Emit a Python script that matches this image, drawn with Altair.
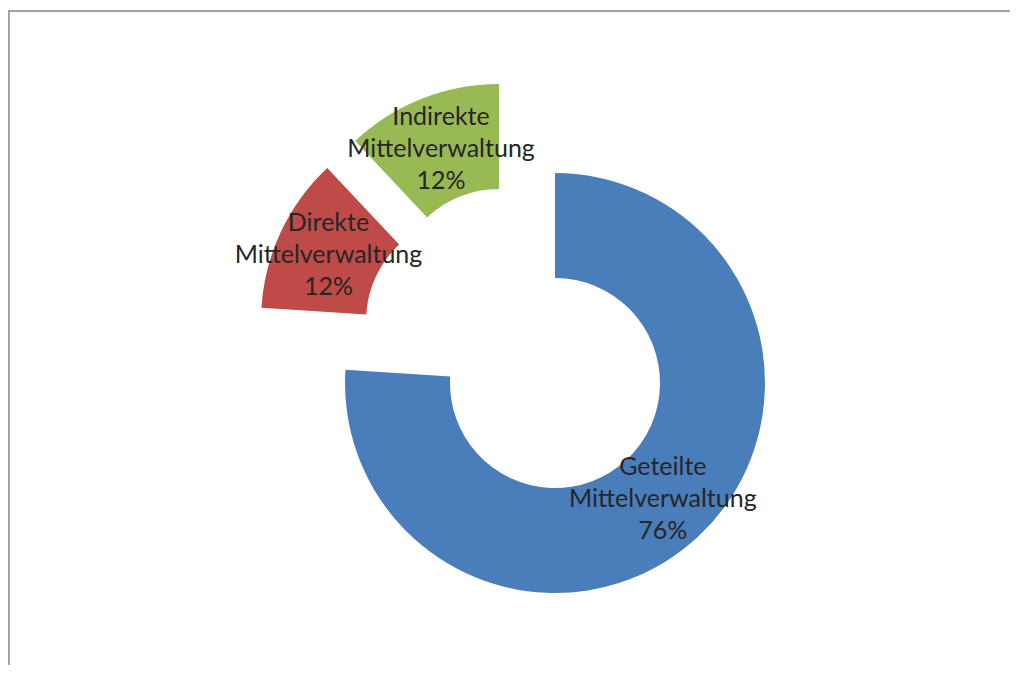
import math
import altair as alt
import pandas as pd

# ---- data ----
categories = ["Geteilte Mittelverwaltung", "Direkte Mittelverwaltung", "Indirekte Mittelverwaltung"]
values = [76, 12, 12]
label_lines = [
    "Geteilte\nMittelverwaltung\n76%",
    "Direkte\nMittelverwaltung\n12%",
    "Indirekte\nMittelverwaltung\n12%",
]
colors = ["#4A7EBB", "#BE4B48", "#98B954"]

# centres of each (exploded) slice, in plot coordinates (styling / layout)
centres = [(547, 375), (463, 313), (491, 286)]

W, H = 1002, 657
INNER, OUTER = 105, 210

df = pd.DataFrame({"cat": categories, "value": values, "label": label_lines})
df["end"] = df["value"].cumsum()
df["start"] = df["end"] - df["value"]
df["mid"] = (df["start"] + df["end"]) / 2

theta_scale = alt.Scale(domain=[0, 100], range=[0, 2 * math.pi])

layers = []
for i, cat in enumerate(categories):
    cx, cy = centres[i]
    base = alt.Chart(df).transform_filter(alt.datum.cat == cat)
    arc = base.mark_arc(innerRadius=INNER, outerRadius=OUTER, stroke=None).encode(
        theta=alt.Theta("start:Q", scale=theta_scale),
        theta2="end:Q",
        x=alt.value(cx),
        y=alt.value(cy),
        color=alt.value(colors[i]),
    )
    txt = base.mark_text(
        radius=(INNER + OUTER) / 2,
        lineBreak="\n",
        font="Lato",
        fontSize=25,
        lineHeight=32,
        dy=-31,
        color="#262626",
        align="center",
        baseline="middle",
    ).encode(
        theta=alt.Theta("mid:Q", scale=theta_scale),
        x=alt.value(cx),
        y=alt.value(cy),
        text="label:N",
    )
    layers.append((arc, txt))

top_rule = alt.Chart(df).mark_rule(color="#A0A0A0", strokeWidth=2).encode(
    x=alt.value(0), x2=alt.value(W), y=alt.value(3)
)
left_rule = alt.Chart(df).mark_rule(color="#A0A0A0", strokeWidth=2).encode(
    x=alt.value(0.5), y=alt.value(3), y2=alt.value(H)
)

chart = alt.layer(
    top_rule,
    left_rule,
    layers[0][0], layers[1][0], layers[2][0],
    layers[0][1], layers[1][1], layers[2][1],
).properties(
    width=W, height=H, padding=0, autosize=alt.AutoSizeParams(type="none")
).configure_view(stroke=None)

chart.save("out.html", embed_options={"renderer": "svg", "actions": False})
